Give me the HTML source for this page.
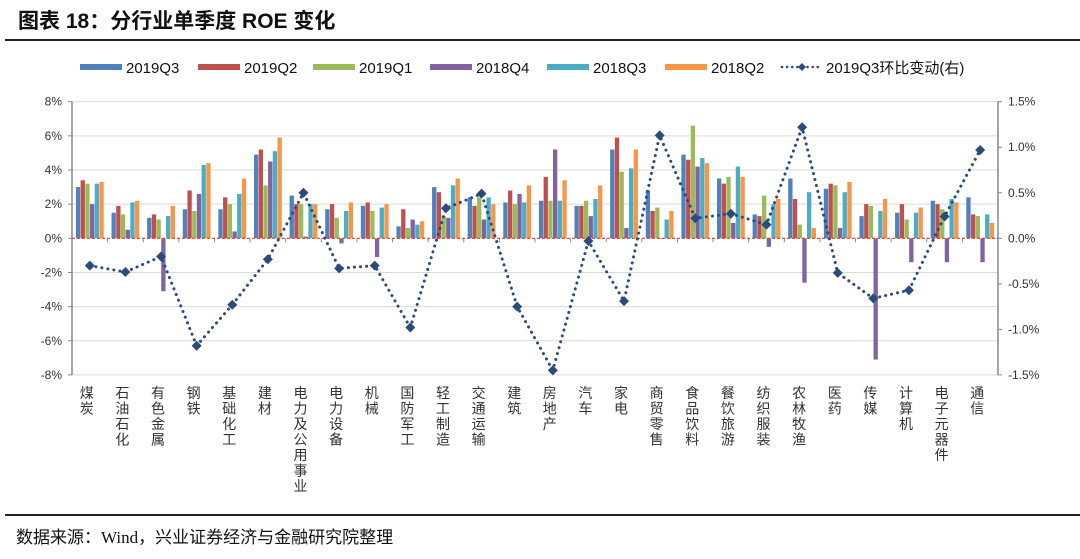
<!DOCTYPE html>
<html><head><meta charset="utf-8">
<style>
html,body{margin:0;padding:0;background:#fff;}
body{width:1080px;height:554px;overflow:hidden;font-family:"Liberation Sans","Noto Sans CJK SC",sans-serif;}
</style></head>
<body>
<svg id="chart" width="1080" height="554" xmlns="http://www.w3.org/2000/svg">
<text x="18" y="28" font-size="21" font-weight="bold" fill="#111" font-family="'Liberation Sans','Noto Sans CJK SC',sans-serif">图表 18：分行业单季度 ROE 变化</text>
<line x1="5" y1="40" x2="1080" y2="40" stroke="#222" stroke-width="2"/>
<line x1="5" y1="515" x2="1080" y2="515" stroke="#222" stroke-width="2"/>
<text x="16" y="543" font-size="17" fill="#111" font-family="'Liberation Serif','Noto Sans CJK SC',sans-serif">数据来源：Wind，兴业证券经济与金融研究院整理</text>
<g id="legend"></g>
<g id="grid"></g><g id="bars"></g><g id="axes"></g><g id="line"></g>
</svg>
<script>
const categories=["煤炭","石油石化","有色金属","钢铁","基础化工","建材","电力及公用事业","电力设备","机械","国防军工","轻工制造","交通运输","建筑","房地产","汽车","家电","商贸零售","食品饮料","餐饮旅游","纺织服装","农林牧渔","医药","传媒","计算机","电子元器件","通信"];
</script>
<script>
const cats=["煤炭","石油石化","有色金属","钢铁","基础化工","建材","电力及公用事业","电力设备","机械","国防军工","轻工制造","交通运输","建筑","房地产","汽车","家电","商贸零售","食品饮料","餐饮旅游","纺织服装","农林牧渔","医药","传媒","计算机","电子元器件","通信"];
const seriesNames=["2019Q3","2019Q2","2019Q1","2018Q4","2018Q3","2018Q2"];
const s2019Q3=[3.0,1.5,1.2,1.7,1.7,4.9,2.5,1.7,1.9,0.7,3.0,2.4,2.1,2.2,1.9,5.2,2.8,4.9,3.5,1.4,3.5,2.9,1.3,1.5,2.2,2.4];
const s2019Q2=[3.4,1.9,1.4,2.8,2.4,5.2,2.0,2.0,2.1,1.7,2.7,1.9,2.8,3.6,1.9,5.9,1.6,4.6,3.2,1.3,2.3,3.2,2.0,2.0,2.0,1.4];
const s2019Q1=[3.2,1.4,1.1,1.6,2.0,3.1,2.0,1.2,1.6,0.6,1.3,2.4,2.0,2.2,2.2,3.9,1.8,6.6,3.6,2.5,0.8,3.1,1.9,1.1,1.7,1.3];
const s2018Q4=[2.0,0.5,-3.1,2.6,0.4,4.5,0.1,-0.3,-1.1,1.1,1.2,1.1,2.6,5.2,1.3,0.6,0.0,4.2,0.9,-0.5,-2.6,0.6,-7.1,-1.4,-1.4,-1.4];
const s2018Q3=[3.2,2.1,1.3,4.3,2.6,5.1,2.0,1.6,1.8,0.8,3.1,2.4,2.1,2.2,2.3,4.1,1.1,4.7,4.2,2.0,2.7,2.7,1.6,1.5,2.3,1.4];
const s2018Q2=[3.3,2.2,1.9,4.4,3.5,5.9,2.0,2.1,2.0,1.0,3.5,2.0,3.1,3.4,3.1,5.2,1.6,4.4,3.6,2.3,0.6,3.3,2.3,1.8,2.1,0.9];
const qoq=[-0.30,-0.37,-0.20,-1.18,-0.73,-0.23,0.50,-0.33,-0.30,-0.98,0.33,0.49,-0.75,-1.45,-0.03,-0.69,1.13,0.22,0.27,0.15,1.22,-0.38,-0.66,-0.57,0.24,0.97];
const leftTicks=["8%","6%","4%","2%","0%","-2%","-4%","-6%","-8%"];
const leftTickVals=[8,6,4,2,0,-2,-4,-6,-8];
const rightTicks=["1.5%","1.0%","0.5%","0.0%","-0.5%","-1.0%","-1.5%"];
const rightTickVals=[1.5,1.0,0.5,0,-0.5,-1.0,-1.5];
const colors=["#4f81bd","#c0504d","#9bbb59","#8064a2","#4bacc6","#f79646"];
const NS="http://www.w3.org/2000/svg";
const X0=72,X1=998,YT=101.7,YB=374.9;
const n=cats.length;
const band=(X1-X0)/n;
const yL=v=>YT+(8-v)/16*(YB-YT);
const yR=v=>YT+(1.5-v)/3*(YB-YT);
const xC=i=>X0+band*(i+0.5);
function mk(tag,attrs,parent){const e=document.createElementNS(NS,tag);for(const k in attrs)e.setAttribute(k,attrs[k]);document.getElementById(parent).appendChild(e);return e;}
// grid & ticks
leftTickVals.forEach((v,i)=>{
  if(v!==-8&&v!==0){const g=mk('line',{x1:X0,x2:X1,y1:yL(v),y2:yL(v),stroke:'#d9d9d9','stroke-width':1},'grid');
  
  }
  const t=mk('text',{x:X0-10,y:yL(v)+4,'text-anchor':'end','font-size':12,fill:'#333'},'axes');t.textContent=leftTicks[i];
  
  
  mk('line',{x1:X0-4,x2:X0,y1:yL(v),y2:yL(v),stroke:'#888'},'axes');
});
rightTickVals.forEach((v,i)=>{
  const t=mk('text',{x:X1+10,y:yR(v)+4,'font-size':12,fill:'#333'},'axes');t.textContent=rightTicks[i];
  
  
  mk('line',{x1:X1,x2:X1+4,y1:yR(v),y2:yR(v),stroke:'#888'},'axes');
});
const la=mk('line',{x1:X0,x2:X0,y1:YT,y2:YB,stroke:'#888','stroke-width':1.5},'axes');


const ra=mk('line',{x1:X1,x2:X1,y1:YT,y2:YB,stroke:'#888','stroke-width':1.5},'axes');


const bl=mk('line',{x1:X0,x2:X1,y1:YB,y2:YB,stroke:'#d9d9d9'},'grid');
// bars
const series=[s2019Q3,s2019Q2,s2019Q1,s2018Q4,s2018Q3,s2018Q2];
const bw=4.3,gap=0.4;
cats.forEach((c,i)=>{
  const start=xC(i)-(6*bw+5*gap)/2;
  series.forEach((s,k)=>{
    const v=s[i];const y0=yL(0),y1=yL(v);
    const r=mk('rect',{x:start+k*(bw+gap),y:Math.min(y0,y1),width:bw,height:Math.max(Math.abs(y1-y0),0.5),fill:colors[k]},'bars');
    
    
  });
  // category label vertical
  const chars=[...c];
  chars.forEach((ch,j)=>{
    const t=mk('text',{x:xC(i)-3,y:398+j*15.5,'text-anchor':'middle','font-size':14,fill:'#333'},'axes');t.textContent=ch;
    
    
  });
  if(i>0) mk('line',{x1:X0+band*i,x2:X0+band*i,y1:yL(0),y2:yL(0)+4,stroke:'#888'},'axes');
});
const z=mk('line',{x1:X0,x2:X1,y1:yL(0),y2:yL(0),stroke:'#d9413a','stroke-width':1.2,'stroke-dasharray':'3,2'},'axes');


// line
const pts=qoq.map((v,i)=>xC(i)+','+yR(v)).join(' ');
const pl=mk('polyline',{points:pts,fill:'none',stroke:'#2c4a7c','stroke-width':3,'stroke-dasharray':'0.1,6','stroke-linecap':'round'},'line');


qoq.forEach((v,i)=>{
  const x=xC(i),y=yR(v);
  const d=mk('polygon',{points:`${x},${y-5} ${x+5},${y} ${x},${y+5} ${x-5},${y}`,fill:'#2c4a7c'},'line');
  
  
});
// legend
const lx=[80,198,313,430,547,665];
seriesNames.forEach((nm,k)=>{
  mk('rect',{x:lx[k],y:64,width:42,height:6,fill:colors[k]},'legend');
  const t=mk('text',{x:lx[k]+46,y:73,'font-size':15,fill:'#111'},'legend');t.textContent=nm;
  
  
});
mk('line',{x1:782,x2:822,y1:67,y2:67,stroke:'#2c4a7c','stroke-width':2.5,'stroke-dasharray':'0.1,5','stroke-linecap':'round'},'legend');
mk('polygon',{points:'802,63 806,67 802,71 798,67',fill:'#2c4a7c'},'legend');
const lt=mk('text',{x:826,y:73,'font-size':15,fill:'#111'},'legend');lt.textContent='2019Q3环比变动(右)';


</script>
</body></html>
